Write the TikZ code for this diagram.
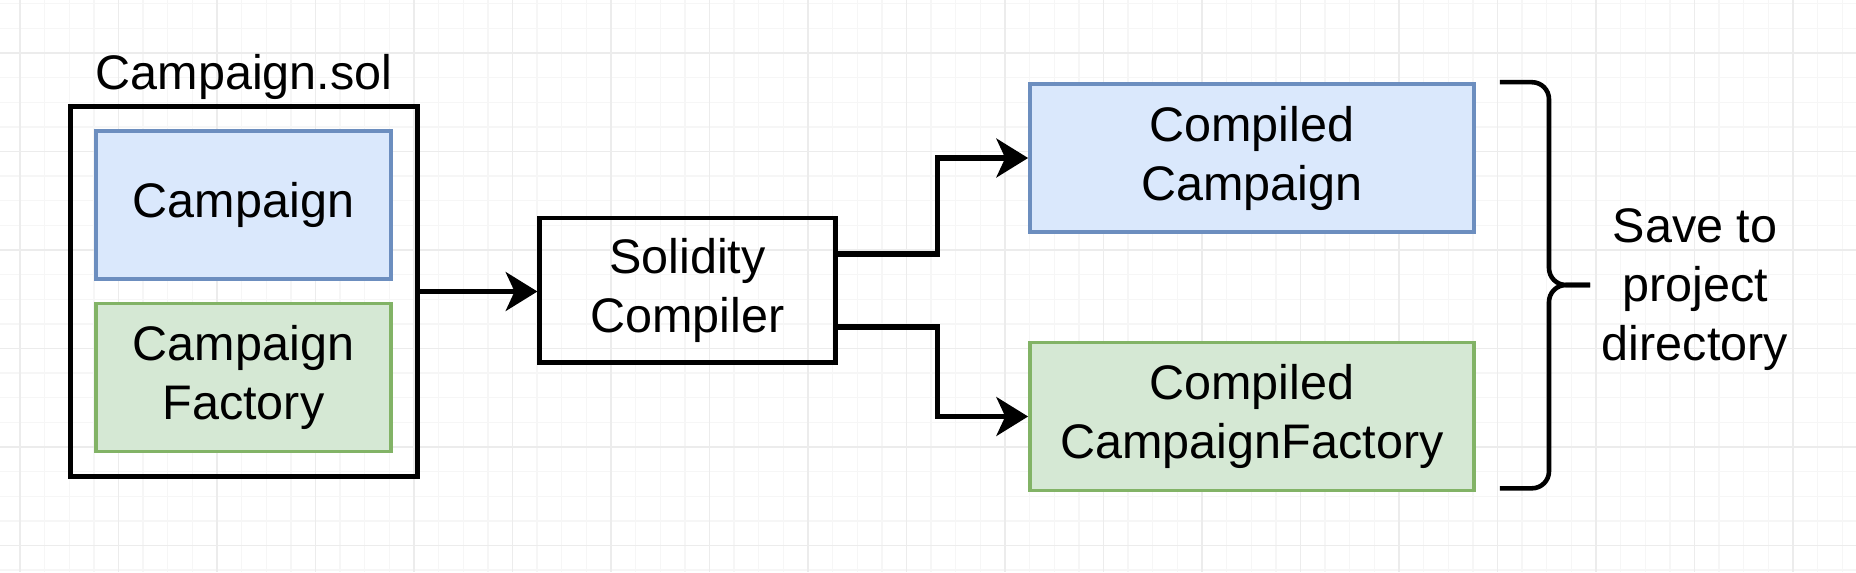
\documentclass[tikz,border=0pt]{standalone}
\usepackage{fontspec}
\setmainfont{Liberation Sans}
\usetikzlibrary{arrows.meta}
\definecolor{bluefill}{HTML}{DAE8FC}
\definecolor{blueline}{HTML}{6C8EBF}
\definecolor{greenfill}{HTML}{D5E8D4}
\definecolor{greenline}{HTML}{82B366}
\definecolor{gridminor}{HTML}{F6F6F6}
\definecolor{gridmajor}{HTML}{ECECEC}

\begin{document}
\begin{tikzpicture}
[x=0.01cm,y=-0.01cm,%
  every node/.style={align=center,font=\fontsize{13.8}{16.8}\selectfont},%
  box/.style={draw,line width=1.4pt,inner sep=0pt},%
  bluebox/.style={draw=blueline,fill=bluefill,line width=1pt,minimum height=1.48cm},%
  greenbox/.style={draw=greenline,fill=greenfill,line width=1pt,minimum height=1.48cm},%
  flow/.style={line width=1.6pt,-{Stealth[length=9pt,width=11pt,inset=2.5pt]}},%
  brace/.style={line width=1.3pt,rounded corners=0.17cm}]
\useasboundingbox (0,0) rectangle (1856,572);
\fill[white] (0,0) rectangle (1856,572);
% background grid
\begin{scope}
\clip (0,0) rectangle (1856,572);
\foreach \k in {0,...,74}
  \draw[gridminor,line width=0.4pt] ({20+24.625*\k},0) -- ++(0,572);
\foreach \k in {-2,...,21}
  \draw[gridminor,line width=0.4pt] (0,{53+24.625*\k}) -- ++(1856,0);
\foreach \k in {0,...,18}
  \draw[gridmajor,line width=0.5pt] ({20+98.5*\k},0) -- ++(0,572);
\foreach \k in {0,...,5}
  \draw[gridmajor,line width=0.5pt] (0,{53+98.5*\k}) -- ++(1856,0);
\end{scope}

% source file
\node[box,minimum width=3.46cm,minimum height=3.69cm] (sol) at (244,291.5) {};
\node (solname) at (244,77) {Campaign.sol};
\node[bluebox,minimum width=2.95cm] (camp) at (243.5,205) {Campaign};
\node[greenbox,minimum width=2.95cm] (fact) at (243.5,377.5) {Campaign\\Factory};

% compiler
\node[box,minimum width=2.95cm,minimum height=1.44cm] (solc) at (687.5,290) {Solidity\\Compiler};

% outputs
\node[bluebox,minimum width=4.44cm] (ccamp) at (1252,158) {Compiled\\Campaign};
\node[greenbox,minimum width=4.44cm] (cfact) at (1252,416.5) {Compiled\\CampaignFactory};

\coordinate (tip) at (1549,285);
\node (save) at (1695,290) {Save to\\project\\directory};

\draw[flow] (sol.east) -- (sol.east -| solc.west);
\draw[flow] ([yshift=3.6mm]solc.east) -- ++(100,0) |- (ccamp.west);
\draw[flow] ([yshift=-3.7mm]solc.east) -- ++(100,0) |- (cfact.west);

\draw[brace] ([xshift=2.4mm]ccamp.north east) -| (tip) -- ++(41,0);
\draw[brace] ([xshift=2.4mm,yshift=0.4mm]cfact.south east) -| (tip) -- ++(41,0);
\end{tikzpicture}
\end{document}
